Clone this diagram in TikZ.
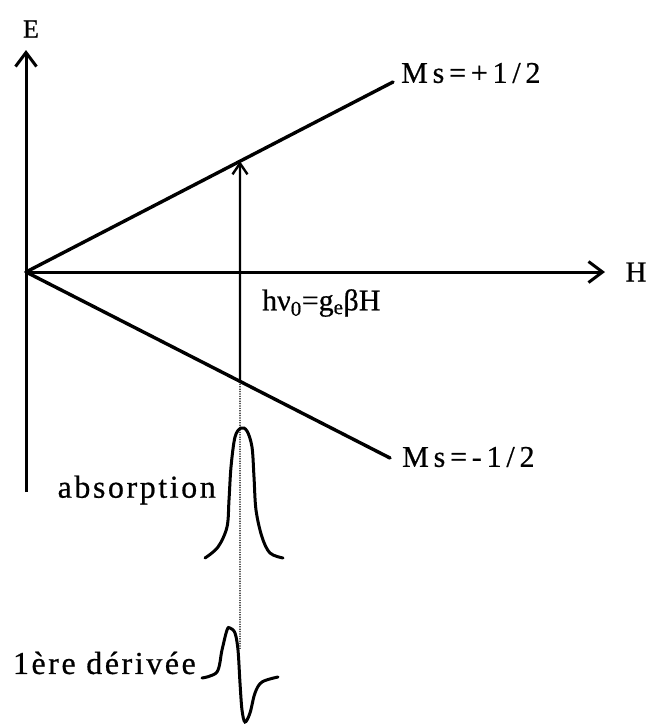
\documentclass[tikz,border=0pt]{standalone}
\usepackage{fontspec}
\setmainfont[FakeBold=0.6]{Liberation Serif}
\newfontfamily\msfont[LetterSpace=16,FakeBold=0.6]{Liberation Serif}
\newfontfamily\lblfont[LetterSpace=8,FakeBold=0.6]{Liberation Serif}
\usetikzlibrary{arrows.meta,calc}
\tikzset{
  axisline/.style={line width=3pt},
  levelline/.style={line width=3.4pt, line cap=round},
  curveline/.style={line width=3pt, line cap=round},
  axistip/.style={-{Straight Barb[length=14pt,width=21pt,line width=3pt]}},
  trans/.style={line width=2.4pt,-{Straight Barb[length=11pt,width=15pt,line width=2.4pt]}},
  dotline/.style={line width=1.4pt, dash pattern=on 1.2pt off 1.2pt},
  lbl/.style={inner sep=0pt}
}
\begin{document}
\begin{tikzpicture}[x=1pt,y=-1pt]
\useasboundingbox (0,0) rectangle (652,724);
\coordinate (O) at (26,272);
\coordinate (Etop) at (26,50);
\coordinate (Ebot) at (26,492);
\coordinate (Htip) at (605,272);
\coordinate (Pend) at (393,82);
\coordinate (Mend) at (390,458);
\coordinate (A) at ($(O)!{214/367}!(Pend)$);
\coordinate (B) at ($(O)!{214/364}!(Mend)$);
\coordinate (D) at (240,650);
% axes
\draw[axisline,axistip] (Ebot) -- (Etop);
\draw[axisline,axistip] (O) -- (Htip);
\node[lbl] (E) at (31,29) {\fontsize{26}{30}\selectfont E};
\node[lbl] (H) at (636,272) {\fontsize{29}{32}\selectfont H};
% levels
\draw[levelline] (O) -- (Pend);
\draw[levelline] (O) -- (Mend);
\node[lbl,anchor=west] (Mp) at (401,73) {\fontsize{30}{34}\msfont Ms=+1/2};
\node[lbl,anchor=west] (Mm) at (402,457) {\fontsize{30}{34}\msfont Ms=-1/2};
% transition
\draw[trans] (B) -- (A);
\draw[dotline] (B) -- (D);
\node[lbl,anchor=west] (hv) at (262,303) {\fontsize{30}{34}\selectfont hν\textsubscript{0}=g\textsubscript{e}βH};
% absorption
\draw[curveline] plot[smooth,tension=0.55] coordinates {(205,558) (218,547) (227,527) (229,500) (231,467) (235,437) (241,428) (247,431) (252,447) (254,477) (256,510) (262,537) (270,553) (283,558)};
\node[lbl,anchor=east] (abs) at (216,490) {\fontsize{32}{36}\lblfont absorption};
% derivative
\draw[curveline] plot[smooth,tension=0.55] coordinates {(202,678) (217,672) (222,650) (227,630) (230,628) (235,633) (238,650) (240,683) (242,710) (245,722) (250,713) (255,693) (262,682) (278,677)};
\node[lbl,anchor=east] (der) at (196,663) {\fontsize{32}{36}\lblfont 1ère dérivée};
\end{tikzpicture}
\end{document}
